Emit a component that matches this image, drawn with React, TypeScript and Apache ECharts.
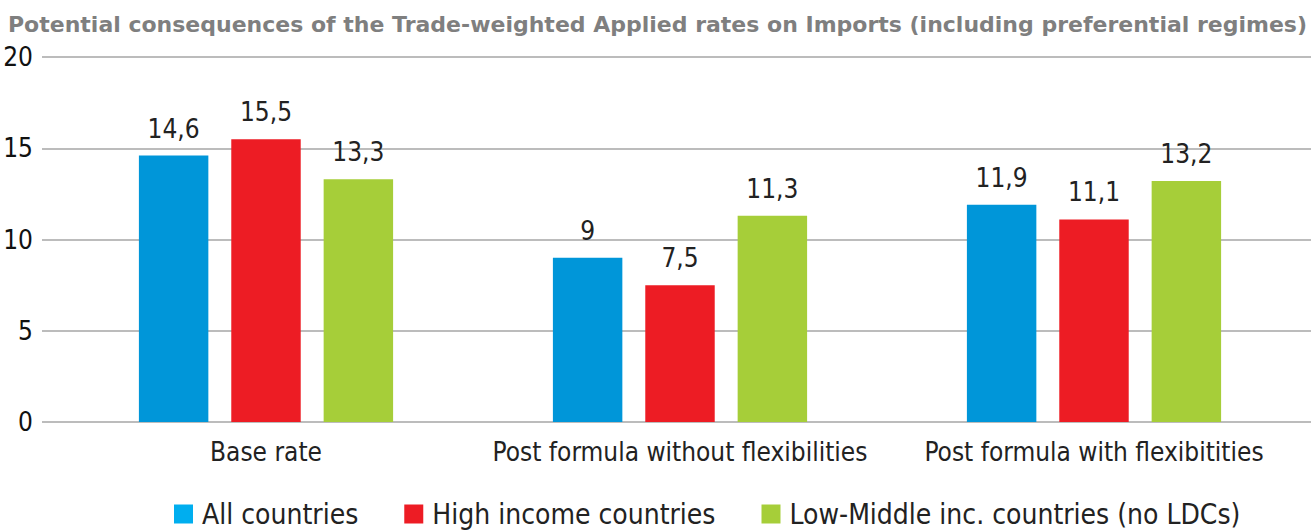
import React, { useEffect, useRef } from "react";
import * as echarts from "echarts";

const categories = ["Base rate", "Post formula without flexibilities", "Post formula with flexibitities"];
const seriesNames = ["All countries", "High income countries", "Low-Middle inc. countries (no LDCs)"];
const allCountries = [14.6, 9, 11.9];
const highIncome = [15.5, 7.5, 11.1];
const lowMiddle = [13.3, 11.3, 13.2];
const yTicks = [0, 5, 10, 15, 20];

const colors = ["#0096D9", "#ED1C24", "#A6CE39"];
const legendColors = ["#00AEEF", "#ED1C24", "#A6CE39"];
const FONT = "'DejaVu Sans Condensed', 'DejaVu Sans', sans-serif";
const TITLE_FONT = "'DejaVu Sans', sans-serif";

export default function App() {
  const ref = useRef<HTMLDivElement>(null);
  useEffect(() => {
    if (!ref.current) return;
    const chart = echarts.init(ref.current, undefined, { renderer: "svg" });
    const values = [allCountries, highIncome, lowMiddle];
    const yMin = yTicks[0];
    const yMax = yTicks[yTicks.length - 1];
    chart.setOption({
      animation: false,
      textStyle: { fontFamily: FONT },
      title: {
        text: "Potential consequences of the Trade-weighted Applied rates on Imports (including preferential regimes)",
        left: 3,
        top: 8,
        textStyle: { fontFamily: TITLE_FONT, fontSize: 22, fontWeight: "bold", color: "#7F7F7F" },
      },
      legend: {
        top: 499,
        left: 174,
        padding: 0,
        icon: "rect",
        itemWidth: 19,
        itemHeight: 19,
        itemGap: 46,
        textStyle: { fontFamily: FONT, fontSize: 28, color: "#222", lineHeight: 30, padding: [0, 0, 0, 4] },
        data: seriesNames.map((n, i) => ({ name: n, itemStyle: { color: legendColors[i] } })),
      },
      grid: [
        { left: 42, right: 0, top: 57, bottom: 109 },
        { left: 59, right: 10, top: 57, bottom: 109 },
      ],
      xAxis: [
        {
          gridIndex: 0,
          type: "value",
          min: 0,
          max: 1,
          axisLine: { show: false },
          axisTick: { show: false },
          axisLabel: { show: false },
          splitLine: { show: false },
        },
        {
          gridIndex: 1,
          type: "category",
          data: categories,
          axisLine: { show: false },
          axisTick: { show: false },
          axisLabel: { fontFamily: FONT, fontSize: 26, color: "#222", margin: 17, interval: 0, hideOverlap: false },
        },
      ],
      yAxis: [
        {
          gridIndex: 0,
          type: "value",
          min: yMin,
          max: yMax,
          interval: 5,
          axisLine: { show: false },
          axisTick: { show: false },
          axisLabel: { fontFamily: FONT, fontSize: 26, color: "#111", margin: 9 },
          splitLine: { lineStyle: { color: "#A6A6A6", width: 1.5 } },
        },
        {
          gridIndex: 1,
          type: "value",
          min: yMin,
          max: yMax,
          interval: 5,
          show: false,
          splitLine: { show: false },
        },
      ],
      series: seriesNames.map((name, i) => ({
        name,
        type: "bar",
        xAxisIndex: 1,
        yAxisIndex: 1,
        data: values[i],
        barGap: "33%",
        barCategoryGap: "38.6%",
        itemStyle: { color: colors[i] },
        label: {
          show: true,
          position: "top",
          distance: 14,
          fontFamily: FONT,
          fontSize: 26,
          color: "#222",
          formatter: (p: any) => String(p.value).replace(".", ","),
        },
      })),
    });
    return () => chart.dispose();
  }, []);
  return <div ref={ref} style={{ width: 1311, height: 531, position: "absolute", left: 0, top: 0 }} />;
}
